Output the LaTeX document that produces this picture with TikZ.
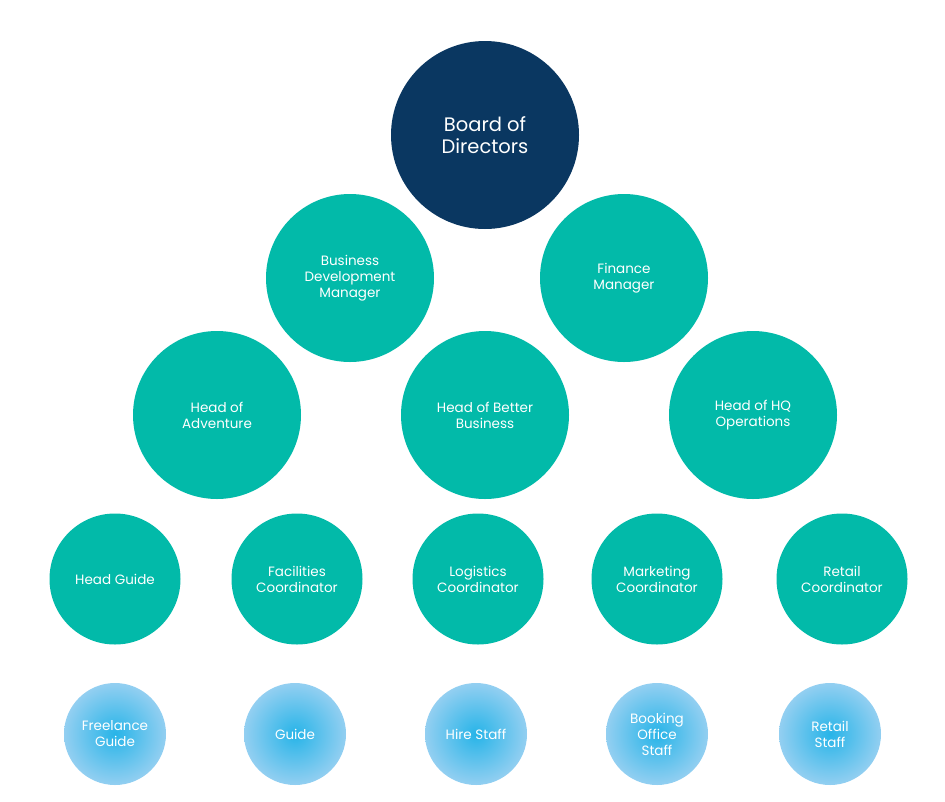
\documentclass[tikz,border=0pt]{standalone}
\usepackage{fontspec}
\setmainfont{Poppins}
\usepackage{tikz}
\definecolor{boardnavy}{HTML}{0A3761}
\definecolor{staffteal}{HTML}{02BAA9}
\definecolor{skyinner}{HTML}{27B4E8}
\definecolor{skyouter}{HTML}{93CFF1}
\begin{document}
\begin{tikzpicture}[x=1pt,y=-1pt,
  every node/.style={circle,inner sep=0pt,align=center,text=white,
    font=\fontsize{13.5}{16}\selectfont},
  board/.style={fill=boardnavy,minimum size=188pt,font=\fontsize{19.5}{22}\selectfont},
  head/.style={fill=staffteal,minimum size=168pt},
  coord/.style={fill=staffteal,minimum size=131pt},
  crew/.style={shading=radial,inner color=skyinner,outer color=skyouter,minimum size=102pt}]
\useasboundingbox (0,0) rectangle (945,801);
% top
\node[board] (board) at (485,135) {Board of\\Directors};
% managers
\node[head] (bdm) at (350,278) {Business\\Development\\Manager};
\node[head] (fin) at (624,278) {Finance\\Manager};
% heads
\node[head] (adv) at (217,415) {Head of\\Adventure};
\node[head] (better) at (485,415) {Head of Better\\Business};
\node[head] (hq) at (753,415) {Head of HQ\\Operations};
% coordinators
\node[coord] (hguide) at (115,579) {Head Guide};
\node[coord] (facil) at (297,579) {Facilities\\Coordinator};
\node[coord] (logis) at (478,579) {Logistics\\Coordinator};
\node[coord] (market) at (657,579) {Marketing\\Coordinator};
\node[coord] (retailc) at (842,579) {Retail\\Coordinator};
% staff
\node[crew] (freel) at (115,734) {Freelance\\Guide};
\node[crew] (guide) at (295,734) {Guide};
\node[crew] (hire) at (476,734) {Hire Staff};
\node[crew] (booking) at (657,734) {Booking\\Office\\Staff};
\node[crew] (retails) at (830,734) {Retail\\Staff};
\end{tikzpicture}
\end{document}
